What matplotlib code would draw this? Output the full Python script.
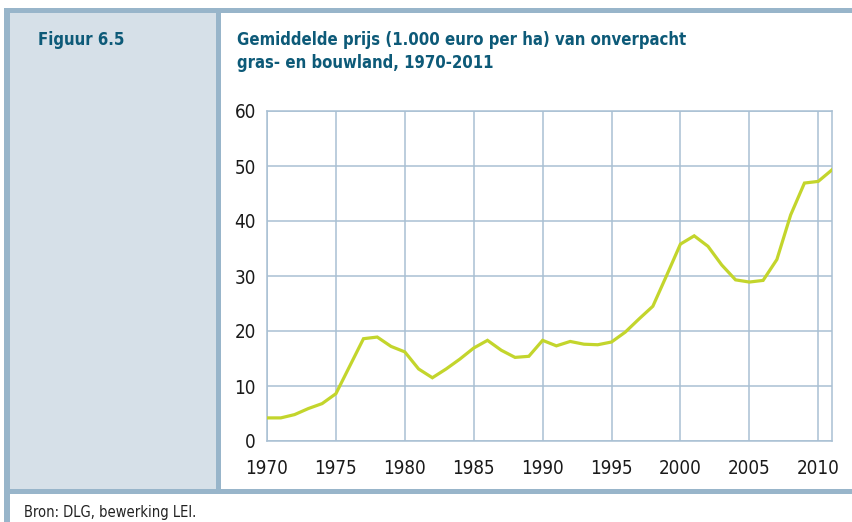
import matplotlib
matplotlib.use("Agg")
import matplotlib.pyplot as plt
from matplotlib.patches import Rectangle

years = list(range(1970, 2012))
prices = [4.2, 4.2, 4.8, 5.9, 6.8, 8.6, 13.6, 18.6, 18.9, 17.2,
          16.2, 13.1, 11.5, 13.1, 14.9, 16.9, 18.3, 16.5, 15.2, 15.4,
          18.3, 17.3, 18.1, 17.6, 17.5, 18.0, 19.8, 22.2, 24.5, 30.1,
          35.8, 37.3, 35.4, 32.0, 29.3, 28.9, 29.2, 33.0, 41.1, 46.9,
          47.2, 49.3]
x_ticks = [1970, 1975, 1980, 1985, 1990, 1995, 2000, 2005, 2010]
y_ticks = [0, 10, 20, 30, 40, 50, 60]

W, H = 852, 522
FRAME = "#98b5ca"
PANEL = "#d6e0e8"
GRID = "#a9c0d3"
LINE = "#c3d52c"
TITLE = "#0d5a78"

plt.rcParams["font.family"] = ["DejaVu Sans"]
plt.rcParams["font.stretch"] = "condensed"

fig = plt.figure(figsize=(W / 100, H / 100), dpi=100)


def box(x0, y0, x1, y1, color):
    # pixel coords, y measured from the top
    fig.patches.append(Rectangle((x0 / W, 1 - y1 / H), (x1 - x0) / W, (y1 - y0) / H,
                                 transform=fig.transFigure, color=color, lw=0, zorder=0))


box(10, 13, 217, 489, PANEL)
box(4, 8, W, 13, FRAME)
box(4, 8, 10, H, FRAME)
box(216, 13, 221, 489, FRAME)
box(4, 489, W, 494, FRAME)

tkw = dict(fontsize=12, fontweight="bold", color=TITLE, va="baseline", fontstretch="condensed")
fig.text(38 / W, 1 - 45 / H, "Figuur 6.5", **tkw)
fig.text(237 / W, 1 - 45 / H, "Gemiddelde prijs (1.000 euro per ha) van onverpacht", **tkw)
fig.text(237 / W, 1 - 68 / H, "gras- en bouwland, 1970-2011", **tkw)
fig.text(24 / W, 1 - 517 / H, "Bron: DLG, bewerking LEI.", fontsize=10.5,
         color="#222222", va="baseline", fontstretch="condensed")

ax = fig.add_axes([267 / W, 1 - 441 / H, (832 - 267) / W, (441 - 111) / H])
ax.plot(years, prices, color=LINE, lw=2.3, solid_joinstyle="miter", zorder=3)
ax.set_xlim(1970, 2011)
ax.set_ylim(0, 60)
ax.set_xticks(x_ticks)
ax.set_yticks(y_ticks)
ax.grid(True, color=GRID, lw=1.1)
ax.set_axisbelow(True)
for s in ax.spines.values():
    s.set_color(GRID)
    s.set_linewidth(1.1)
ax.tick_params(length=0, labelsize=13.5, colors="#1a1a1a")
ax.tick_params(axis="y", pad=8)
ax.tick_params(axis="x", pad=13)

fig.savefig("out.png", dpi=100)
